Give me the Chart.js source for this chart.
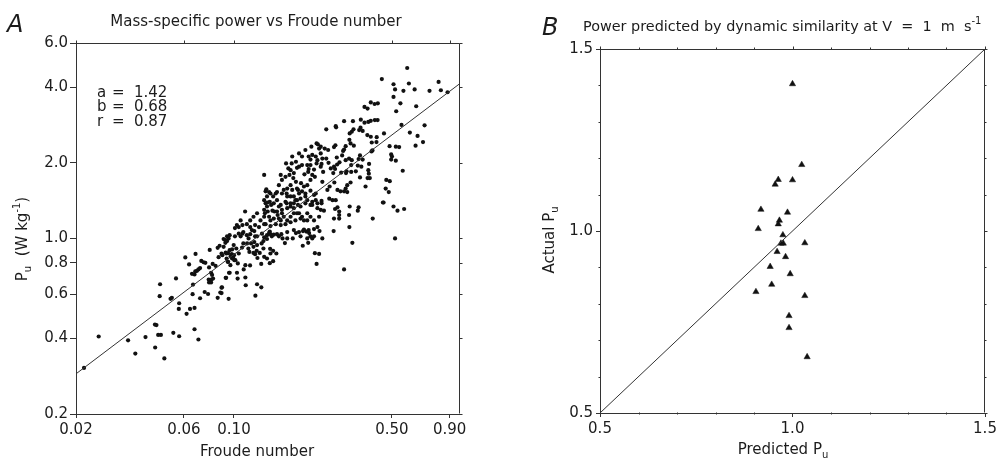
<!DOCTYPE html>
<html><head><meta charset="utf-8">
<script src="https://cdn.jsdelivr.net/npm/chart.js@4.4.1/dist/chart.umd.min.js"></script>
<style>
html,body{margin:0;padding:0;background:#fff;}
body{width:997px;height:458px;overflow:hidden;position:relative;}
canvas{position:absolute;top:0;}
#ca{left:0;} #cb{left:480px;}
</style></head><body>
<canvas id="ca" width="480" height="458"></canvas>
<canvas id="cb" width="520" height="458"></canvas>
<script>
// ---------- Panel A data ----------
const titleA = 'Mass-specific power vs Froude number';
const froudeTicks = [0.02, 0.06, 0.10, 0.50, 0.90];
const froudeTickLabels = ['0.02', '0.06', '0.10', '0.50', '0.90'];
const powerTicks = [0.2, 0.4, 0.6, 0.8, 1.0, 2.0, 4.0, 6.0];
const powerTickLabels = ['0.2', '0.4', '0.6', '0.8', '1.0', '2.0', '4.0', '6.0'];
const fitLineA = [[0.02, 0.289], [1.0, 4.14]];
const statNames = ['a', 'b', 'r'];
const statValues = ['1.42', '0.68', '0.87'];

// [Froude number, P_u] pairs
const samplesLowA = [[0.0217,0.305],[0.0252,0.407],[0.034,0.393],[0.0366,0.348],[0.0406,0.405],[0.0448,0.368],[0.0447,0.454],[0.0454,0.452],[0.0462,0.413],[0.0475,0.413],[0.0492,0.333],[0.0539,0.421],[0.0572,0.408],[0.0669,0.435],[0.0696,0.396],[0.0471,0.657],[0.0469,0.589],[0.0554,0.693],[0.0524,0.575],[0.0531,0.58],[0.0572,0.552],[0.057,0.524],[0.0617,0.501],[0.0639,0.524],[0.0669,0.529],[0.0656,0.6],[0.0659,0.655],[0.0708,0.578],[0.0742,0.612],[0.0768,0.601],[0.0847,0.58],[0.087,0.609],[0.0885,0.639],[0.0947,0.575],[0.0923,0.697],[0.0957,0.73],[0.0609,0.84],[0.0676,0.868],[0.0633,0.788],[0.0652,0.723],[0.0669,0.719],[0.0674,0.739],[0.0686,0.743],[0.0696,0.753],[0.0708,0.762],[0.0717,0.814],[0.0734,0.804],[0.0747,0.8],[0.0781,0.9],[0.0776,0.767],[0.0792,0.73],[0.08,0.716],[0.0773,0.686],[0.0794,0.686],[0.0808,0.692],[0.0776,0.668],[0.0792,0.668],[0.0805,0.792],[0.0829,0.778],[0.0855,0.842],[0.0888,0.858],[0.0847,0.918],[0.0864,0.935],[0.0916,0.961],[0.0932,0.976],[0.0919,0.879],[0.0942,0.874],[0.0957,0.898],[0.0967,0.85],[0.0977,0.866],[0.0928,0.832],[0.0942,0.807],[0.0991,0.84],[0.1004,0.819]];
const samplesMidA = [[0.516,1.0],[0.334,0.961],[0.307,0.753],[0.276,1.07],[0.232,0.792],[0.228,0.874],[0.238,0.868],[0.246,1.0],[0.239,1.07],[0.222,1.0],[0.218,1.02],[0.213,0.961],[0.2015,0.935],[0.215,1.05],[0.209,1.065],[0.202,1.07],[0.188,1.05],[0.182,1.0],[0.168,0.958],[0.164,1.0],[0.162,1.04],[0.158,1.02],[0.155,1.04],[0.150,1.035],[0.147,1.02],[0.145,1.04],[0.143,1.05],[0.144,1.065],[0.140,0.995],[0.136,1.01],[0.135,0.976],[0.1325,0.955],[0.135,0.912],[0.1445,0.909],[0.149,0.893],[0.154,0.871],[0.145,0.871],[0.140,0.832],[0.144,0.797],[0.149,0.812],[0.136,0.845],[0.132,0.792],[0.127,0.836],[0.124,0.866],[0.130,0.876],[0.126,0.893],[0.122,0.876],[0.117,0.884],[0.122,0.926],[0.1265,0.941],[0.123,0.967],[0.119,0.955],[0.116,1.0],[0.118,1.04],[0.123,1.07],[0.1265,1.02],[0.107,1.02],[0.105,1.045],[0.110,1.06],[0.110,0.955],[0.1086,0.92],[0.105,0.871],[0.100,0.858],[0.1014,0.819],[0.104,0.795],[0.0932,1.02],[0.0947,1.0],[0.0957,1.03],[0.0916,0.985],[0.09,0.926],[0.0881,0.871],[0.0925,0.871],[0.0938,0.807],[0.0981,0.832],[0.0964,0.783],[0.0951,0.73],[0.0919,0.697],[0.1031,0.73],[0.1038,0.692],[0.1123,0.699],[0.1104,0.753],[0.1123,0.783],[0.1178,0.781],[0.1127,0.651],[0.1265,0.657],[0.1321,0.639],[0.1244,0.592],[0.0881,0.637],[0.0881,0.606],[0.0997,0.941],[0.0981,0.904],[0.1024,0.912],[0.1143,0.955],[0.1158,0.912]];
const samplesUpperA = [[0.584,4.77],[0.451,4.31],[0.508,4.11],[0.516,3.92],[0.508,3.66],[0.522,3.21],[0.545,3.45],[0.594,4.14],[0.562,3.87],[0.63,3.92],[0.733,3.87],[0.804,4.2],[0.823,3.89],[0.881,3.82],[0.64,3.36],[0.378,3.34],[0.39,3.29],[0.403,3.48],[0.419,3.43],[0.433,3.45],[0.551,2.83],[0.6,2.64],[0.649,2.56],[0.697,2.82],[0.686,2.42],[0.636,2.34],[0.461,2.62],[0.488,2.33],[0.52,2.32],[0.538,2.31],[0.496,2.16],[0.5,2.12],[0.52,2.04],[0.496,2.06],[0.558,1.86],[0.472,1.71],[0.489,1.69],[0.469,1.58],[0.484,1.53],[0.456,1.39],[0.508,1.34],[0.529,1.29],[0.566,1.31],[0.393,2.91],[0.403,2.94],[0.42,2.96],[0.432,2.96],[0.364,2.97],[0.378,2.89],[0.363,2.76],[0.358,2.7],[0.371,2.68],[0.389,2.58],[0.403,2.54],[0.428,2.53],[0.427,2.42],[0.407,2.41],[0.336,2.93],[0.338,2.72],[0.332,2.66],[0.325,2.62],[0.307,2.93],[0.282,2.8],[0.256,2.72],[0.324,2.47],[0.328,2.39],[0.312,2.33],[0.339,2.34],[0.281,2.35],[0.277,2.31],[0.307,2.26],[0.304,2.23],[0.235,2.37],[0.242,2.32],[0.252,2.28],[0.261,2.25],[0.285,2.1],[0.301,2.14],[0.293,2.01],[0.312,2.05],[0.323,2.08],[0.332,2.05],[0.361,2.14],[0.356,2.07],[0.371,2.06],[0.406,2.22],[0.41,2.24],[0.396,1.98],[0.393,1.87],[0.395,1.81],[0.361,1.75],[0.346,1.85],[0.353,1.95],[0.366,1.93],[0.33,1.96],[0.33,1.84],[0.286,1.97],[0.277,1.93],[0.268,1.9],[0.262,2.0],[0.244,1.98],[0.242,1.93],[0.248,1.84],[0.275,1.82],[0.28,1.89],[0.298,1.83],[0.315,1.85],[0.313,1.82],[0.39,1.74],[0.399,1.74],[0.382,1.61],[0.317,1.63],[0.328,1.67],[0.312,1.58],[0.278,1.67],[0.265,1.61],[0.259,1.56],[0.287,1.56],[0.296,1.54],[0.307,1.54],[0.317,1.53],[0.246,1.68],[0.244,1.41],[0.264,1.44],[0.273,1.42],[0.282,1.42],[0.25,1.29],[0.287,1.33],[0.28,1.31],[0.292,1.28],[0.325,1.34],[0.353,1.29],[0.356,1.33],[0.323,1.24],[0.292,1.24],[0.277,1.2],[0.292,1.2],[0.411,1.2],[0.459,1.39],[0.324,1.11],[0.283,2.77]];
const samplesCoreA = [[0.214,2.12],[0.218,2.06],[0.222,2.15],[0.23,2.12],[0.234,2.05],[0.246,2.08],[0.256,2.08],[0.242,2.18],[0.2,1.96],[0.211,1.96],[0.213,1.84],[0.226,1.88],[0.205,1.8],[0.228,1.76],[0.222,1.79],[0.181,2.12],[0.18,1.99],[0.19,1.91],[0.188,2.02],[0.184,1.82],[0.194,1.93],[0.178,1.87],[0.17,1.99],[0.174,1.9],[0.169,1.76],[0.176,1.79],[0.183,1.74],[0.188,1.68],[0.178,1.63],[0.172,1.58],[0.181,1.56],[0.192,1.56],[0.204,1.61],[0.211,1.63],[0.207,1.51],[0.2,1.54],[0.218,1.55],[0.226,1.49],[0.23,1.42],[0.222,1.4],[0.211,1.42],[0.207,1.38],[0.218,1.36],[0.232,2.39],[0.22,2.32],[0.207,2.25],[0.194,2.18],[0.2,2.12],[0.161,1.79],[0.163,1.71],[0.158,1.63],[0.155,1.53],[0.153,1.51],[0.163,1.51],[0.166,1.56],[0.172,1.47],[0.184,1.47],[0.19,1.42],[0.136,1.79],[0.139,1.57],[0.138,1.54],[0.14,1.47],[0.136,1.42],[0.138,1.38],[0.14,1.34],[0.136,1.3],[0.137,1.26],[0.143,1.22],[0.145,1.18],[0.145,1.51],[0.149,1.47],[0.144,1.4],[0.15,1.38],[0.155,1.42],[0.158,1.34],[0.151,1.28],[0.156,1.24],[0.163,1.26],[0.166,1.22],[0.161,1.18],[0.172,1.18],[0.178,1.22],[0.184,1.26],[0.178,1.34],[0.171,1.38],[0.184,1.38],[0.192,1.36],[0.197,1.34],[0.194,1.26],[0.2,1.22],[0.204,1.18],[0.211,1.26],[0.218,1.22],[0.226,1.18],[0.238,1.22],[0.242,1.3],[0.244,1.38],[0.234,1.32],[0.112,1.28],[0.107,1.18],[0.114,1.14],[0.118,1.18],[0.122,1.22],[0.1265,1.26],[0.131,1.18],[0.124,1.13],[0.129,1.11],[0.118,1.11],[0.136,1.14],[0.101,1.1],[0.105,1.11]];
const samplesDenseA = [[0.214,1.89],[0.218,1.96],[0.232,1.99],[0.238,2.28],[0.218,1.71],[0.198,1.66],[0.19,1.58],[0.194,1.51],[0.178,1.47],[0.171,1.51],[0.143,1.53],[0.141,1.39],[0.146,1.36],[0.161,1.36],[0.169,1.4],[0.178,1.38],[0.187,1.42],[0.197,1.44],[0.207,1.47],[0.23,1.51],[0.222,1.36],[0.234,1.38],[0.141,1.28],[0.148,1.29],[0.155,1.28],[0.163,1.3],[0.172,1.32],[0.184,1.32],[0.19,1.26],[0.158,1.2],[0.15,1.2],[0.136,1.22],[0.138,1.14],[0.145,1.12],[0.153,1.14],[0.161,1.13],[0.169,1.14],[0.178,1.16],[0.187,1.18],[0.197,1.2],[0.211,1.18],[0.103,1.13],[0.109,1.13],[0.12,1.08],[0.114,1.03],[0.109,1.045],[0.101,1.02],[0.09,0.994],[0.124,1.02],[0.133,1.045],[0.14,1.03],[0.172,1.06],[0.184,1.08],[0.194,1.06],[0.204,1.085],[0.214,1.08],[0.226,1.09],[0.234,1.11],[0.226,1.02],[0.211,1.0],[0.197,1.02],[0.172,1.0]];

// ---------- Panel B data ----------
const titleB = 'Power predicted by dynamic similarity at V  =  1  m  s';
const predictedB = [1.00,1.024,1.00,0.963,0.955,0.918,0.987,0.966,0.963,0.911,0.975,0.970,0.976,1.032,0.960,0.982,0.942,0.994,0.946,0.905,1.032,0.991,0.991,1.038];
const actualB    = [1.404,1.182,1.140,1.141,1.128,1.059,1.051,1.029,1.019,1.006,0.989,0.966,0.966,0.967,0.943,0.929,0.902,0.882,0.853,0.833,0.822,0.767,0.734,0.654];
const identityB = [[0.5, 0.5], [1.5, 1.5]];
const bMajorTicks = [0.5, 1.0, 1.5];
const bMajorLabels = ['0.5', '1.0', '1.5'];
const bMinorTicks = [0.6, 0.7, 0.8, 0.9, 1.1, 1.2, 1.3, 1.4];

// ---------- helpers ----------
const FONT = '"DejaVu Sans", "Liberation Sans", sans-serif';
const INK = '#1c1c1c';
Chart.defaults.font.family = FONT;
Chart.defaults.color = INK;

function drawRich(ctx, segs, x, y, size, rotate, align) {
  ctx.save();
  ctx.translate(x, y);
  if (rotate) ctx.rotate(-Math.PI / 2);
  const fontOf = k => (k ? Math.round(size * 0.68) : size) + 'px ' + FONT;
  let w = 0;
  for (const [t, k] of segs) { ctx.font = fontOf(k); w += ctx.measureText(t).width; }
  let cx = align === 'left' ? 0 : -w / 2;
  ctx.textAlign = 'left';
  ctx.textBaseline = 'alphabetic';
  for (const [t, k] of segs) {
    ctx.font = fontOf(k);
    const dy = k === 1 ? size * 0.28 : (k === 2 ? -size * 0.5 : 0);
    ctx.fillText(t, cx, dy);
    cx += ctx.measureText(t).width;
  }
  ctx.restore();
}

function framePlugin(id, xMajor, yMajor, xMinor, yMinor) {
  return {
    id,
    afterDraw(chart) {
      const c = chart.ctx, a = chart.chartArea, sx = chart.scales.x, sy = chart.scales.y;
      const L = Math.round(a.left) + 0.5, R = Math.round(a.right) - 0.5;
      const T = Math.round(a.top) + 0.5, B = Math.round(a.bottom) - 0.5;
      c.save();
      c.strokeStyle = '#333';
      c.lineWidth = 1;
      c.beginPath();
      c.moveTo(L, T); c.lineTo(R, T); c.lineTo(R, B);
      xMajor.forEach(v => { const p = Math.round(sx.getPixelForValue(v)) + 0.5; c.moveTo(p, T); c.lineTo(p, T - 3); });
      yMajor.forEach(v => { const p = Math.round(sy.getPixelForValue(v)) + 0.5; c.moveTo(R, p); c.lineTo(R + 3, p); });
      xMinor.forEach(v => { const p = Math.round(sx.getPixelForValue(v)) + 0.5; c.moveTo(p, T); c.lineTo(p, T - 2); c.moveTo(p, B); c.lineTo(p, B + 2); });
      yMinor.forEach(v => { const p = Math.round(sy.getPixelForValue(v)) + 0.5; c.moveTo(R, p); c.lineTo(R + 2, p); c.moveTo(L, p); c.lineTo(L - 2, p); });
      c.stroke();
      c.restore();
    }
  };
}

const textPluginA = {
  id: 'textA',
  afterDraw(chart) {
    const c = chart.ctx;
    c.save();
    c.fillStyle = INK;
    c.textBaseline = 'alphabetic';
    c.textAlign = 'left';
    c.font = 'italic 24px ' + FONT;
    c.fillText('A', 7, 32);
    c.font = '15px ' + FONT;
    c.textAlign = 'center';
    c.fillText(titleA, 256, 26);
    c.textAlign = 'left';
    statNames.forEach((n, i) => {
      const yy = 97 + i * 14.4;
      c.fillText(n, 97, yy);
      c.fillText('=', 112, yy);
      c.fillText(statValues[i], 134, yy);
    });
    c.fillStyle = INK;
    drawRich(c, [['Froude number', 0]], 257, 456, 15, false);
    drawRich(c, [['P', 0], ['u', 1], ['  (W kg', 0], ['-1', 2], [')', 0]], 27, 239, 15, true);
    c.restore();
  }
};

const textPluginB = {
  id: 'textB',
  afterDraw(chart) {
    const c = chart.ctx;
    c.save();
    c.fillStyle = INK;
    c.textBaseline = 'alphabetic';
    c.textAlign = 'left';
    c.font = 'italic 24px ' + FONT;
    c.fillText('B', 62, 35);
    drawRich(c, [[titleB, 0], ['-1', 2]], 103, 31, 14.4, false, 'left');
    drawRich(c, [['Predicted P', 0], ['u', 1]], 303, 454, 15, false);
    drawRich(c, [['Actual P', 0], ['u', 1]], 74, 240, 15, true);
    c.restore();
  }
};

const toPts = arr => arr.map(([x, y]) => ({ x, y }));
const allA = [].concat(samplesLowA, samplesMidA, samplesUpperA, samplesCoreA, samplesDenseA);

const axisGrid = (len) => ({ drawOnChartArea: false, drawTicks: true, tickLength: len, color: '#333', lineWidth: 1 });
const axisBorder = { display: true, color: '#333', width: 1 };
const tickFont = { family: FONT, size: 15 };

new Chart(document.getElementById('ca'), {
  type: 'scatter',
  data: {
    datasets: [
      { data: toPts(fitLineA), showLine: true, borderColor: '#333', borderWidth: 1, pointRadius: 0, fill: false },
      { data: toPts(allA), backgroundColor: '#111', borderWidth: 0, pointRadius: 2.1, pointHoverRadius: 2.1 }
    ]
  },
  options: {
    responsive: false, animation: false, events: [],
    layout: { padding: { top: 43, right: 20, left: 0, bottom: 0 } },
    plugins: { legend: { display: false }, tooltip: { enabled: false } },
    scales: {
      x: {
        type: 'logarithmic', min: 0.02, max: 1.0, position: 'bottom',
        afterBuildTicks: s => { s.ticks = froudeTicks.map(v => ({ value: v })); },
        afterFit: s => { s.height = 44; },
        ticks: { callback: (v, i) => froudeTickLabels[i], font: tickFont, color: INK, padding: 3, maxRotation: 0, autoSkip: false },
        grid: axisGrid(4), border: axisBorder
      },
      y: {
        type: 'logarithmic', min: 0.2, max: 6.0, position: 'left',
        afterBuildTicks: s => { s.ticks = powerTicks.map(v => ({ value: v })); },
        afterFit: s => { s.width = 76; },
        ticks: { callback: (v, i) => powerTickLabels[i], font: tickFont, color: INK, padding: 2, autoSkip: false },
        grid: axisGrid(6), border: axisBorder
      }
    }
  },
  plugins: [framePlugin('frameA', froudeTicks, powerTicks, [], []), textPluginA]
});

new Chart(document.getElementById('cb'), {
  type: 'scatter',
  data: {
    datasets: [
      { data: toPts(identityB), showLine: true, borderColor: '#333', borderWidth: 1, pointRadius: 0, fill: false },
      { data: predictedB.map((x, i) => ({ x, y: actualB[i] })), pointStyle: 'triangle', backgroundColor: '#111', borderColor: '#111', borderWidth: 0.5, pointRadius: 3.6, pointHoverRadius: 3.6 }
    ]
  },
  options: {
    responsive: false, animation: false, events: [],
    layout: { padding: { top: 49, right: 15, left: 0, bottom: 0 } },
    plugins: { legend: { display: false }, tooltip: { enabled: false } },
    scales: {
      x: {
        type: 'linear', min: 0.5, max: 1.5, position: 'bottom',
        afterBuildTicks: s => { s.ticks = bMajorTicks.map(v => ({ value: v })); },
        afterFit: s => { s.height = 45; },
        ticks: { callback: (v, i) => bMajorLabels[i], font: tickFont, color: INK, padding: 3, maxRotation: 0, autoSkip: false },
        grid: axisGrid(4), border: axisBorder
      },
      y: {
        type: 'linear', min: 0.5, max: 1.5, position: 'left',
        afterBuildTicks: s => { s.ticks = bMajorTicks.map(v => ({ value: v })); },
        afterFit: s => { s.width = 120; },
        ticks: { callback: (v, i) => bMajorLabels[i], font: tickFont, color: INK, padding: 3, autoSkip: false },
        grid: axisGrid(4), border: axisBorder
      }
    }
  },
  plugins: [framePlugin('frameB', bMajorTicks, bMajorTicks, bMinorTicks, bMinorTicks), textPluginB]
});
</script>
</body></html>
